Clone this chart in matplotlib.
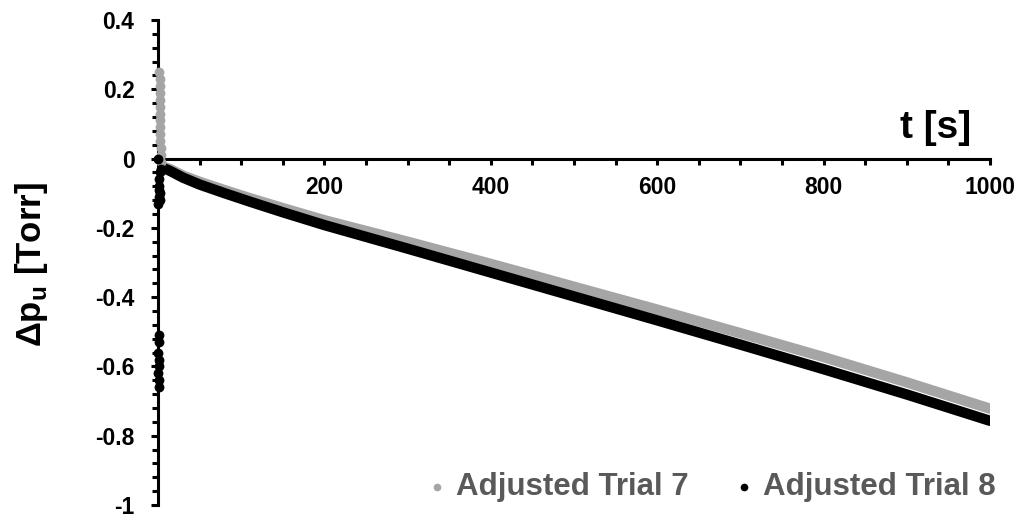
import numpy as np
import matplotlib.pyplot as plt
from matplotlib.ticker import MultipleLocator, FuncFormatter

plt.rcParams['font.family'] = ['Liberation Sans', 'DejaVu Sans']
plt.rcParams['font.weight'] = 'bold'
plt.rcParams['mathtext.fontset'] = 'custom'
plt.rcParams['mathtext.rm'] = 'Liberation Sans:bold'
plt.rcParams['mathtext.bf'] = 'Liberation Sans:bold'

GRAY = '#A5A5A5'

# smoothed pressure decay after the valve closes (t in s, dp in Torr)
t_curve = [3, 8, 14, 30, 50, 80, 110, 150, 200, 300, 400, 500, 600, 700, 800, 900, 1000]
dp_trial7 = [-0.022, -0.025, -0.030, -0.049, -0.067, -0.091, -0.114, -0.143, -0.178,
             -0.240, -0.304, -0.370, -0.436, -0.504, -0.573, -0.646, -0.722]
dp_trial8 = [-0.026, -0.029, -0.035, -0.055, -0.075, -0.100, -0.124, -0.155, -0.192,
             -0.260, -0.329, -0.398, -0.467, -0.537, -0.608, -0.681, -0.757]

# transient readings right at t = 0
t_spike7 = [1.5, 1.8, 2.0, 2.2, 2.0, 1.8, 2.2, 2.5, 2.6, 2.8, 3.0, 3.2, 3.5, 4.0]
dp_spike7 = [0.25, 0.23, 0.21, 0.19, 0.17, 0.15, 0.13, 0.11, 0.09, 0.07, 0.05, 0.03, 0.01, -0.01]
t_spike8 = [0.0, 1.0, 1.5, 2.0, 1.0, 2.5, 0.5, 1.5, 1.0, 0.5, 1.5, 1.0, 0.5, 1.0, 1.5, 1.0, 3.0, 4.0]
dp_spike8 = [0.0, -0.06, -0.08, -0.10, -0.11, -0.12, -0.13, -0.51, -0.53, -0.56, -0.58, -0.60,
             -0.62, -0.64, -0.66, -0.09, -0.04, -0.03]

fig = plt.figure(figsize=(10.24, 5.14), dpi=100)
ax = fig.add_axes([0.1543, 0.0175, 0.8125, 0.9436])

ax.scatter(t_spike7, dp_spike7, s=50, color=GRAY, linewidths=0, zorder=4, clip_on=False)
ax.plot(t_curve, dp_trial7, color=GRAY, lw=7.5, solid_capstyle='round', zorder=3)
ax.plot(t_curve, dp_trial8, color='black', lw=7.5, solid_capstyle='round', zorder=3.5)
ax.scatter(t_spike8, dp_spike8, s=50, color='black', linewidths=0, zorder=4.5, clip_on=False)

ax.set_xlim(0, 1000)
ax.set_ylim(-1, 0.4)

for side in ['top', 'right']:
    ax.spines[side].set_visible(False)
ax.spines['bottom'].set_position(('data', 0))
for side in ['left', 'bottom']:
    ax.spines[side].set_linewidth(2.2)

ax.xaxis.set_major_locator(MultipleLocator(200))
ax.xaxis.set_minor_locator(MultipleLocator(50))
ax.yaxis.set_major_locator(MultipleLocator(0.2))
ax.yaxis.set_minor_locator(MultipleLocator(0.04))
ax.xaxis.set_major_formatter(FuncFormatter(lambda v, p: '' if v == 0 else f'{v:.0f}'))
ax.yaxis.set_major_formatter(FuncFormatter(lambda v, p: '0' if abs(v) < 1e-9 else f'{v:g}'))

ax.tick_params(axis='both', which='both', direction='out', width=2.2, labelsize=16.5)
ax.tick_params(axis='x', which='both', length=4.5, pad=8)
ax.tick_params(axis='y', which='major', length=5, pad=12)
ax.tick_params(axis='y', which='minor', length=4.5)

ax.set_xlabel('t [s]', fontsize=28, fontweight='bold', va='center')
ax.xaxis.set_label_coords(0.934, 0.778)
ax.set_ylabel('Δp$_\\mathbf{u}$ [Torr]', fontsize=25, fontweight='bold')
ax.yaxis.set_label_coords(-0.152, 0.495)
ax.yaxis.label.set_verticalalignment('center')

# legend entries drawn as plain markers
h7 = ax.scatter([], [], s=42, color=GRAY, linewidths=0)
h8 = ax.scatter([], [], s=42, color='black', linewidths=0)
fig.legend([h7, h8], ['Adjusted Trial 7', 'Adjusted Trial 8'], loc='center',
           bbox_to_anchor=(0.695, 0.0525), ncol=2, frameon=False,
           handlelength=0.6, handletextpad=0.3, columnspacing=1.5, markerscale=0.85,
           labelcolor='#595959', prop={'weight': 'bold', 'size': 22.5})

fig.savefig('out.png', dpi=100)
